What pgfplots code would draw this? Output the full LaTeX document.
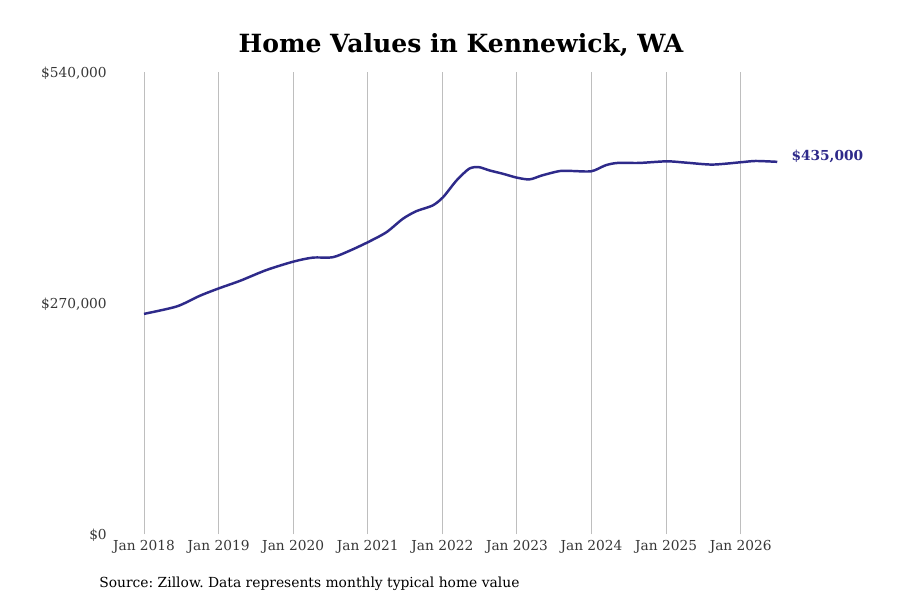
\documentclass[border=0pt]{standalone}
\usepackage{fontspec}
\setmainfont{DejaVu Serif}
\usepackage{pgfplots}
\pgfplotsset{compat=1.18}
\definecolor{linec}{RGB}{46,42,138}
\definecolor{tickc}{RGB}{55,55,55}
\definecolor{gridc}{RGB}{190,190,190}
\frenchspacing
\begin{document}
\begin{tikzpicture}
\path[use as bounding box, fill=white] (0pt,0pt) rectangle (675pt,450pt);
\begin{axis}[
  at={(108pt,49.5pt)}, anchor=south west,
  scale only axis, width=475.5pt, height=346.5pt,
  xmin=2018, xmax=2026.5, ymin=0, ymax=540000,
  clip=false,
  axis line style={draw=none},
  major tick length=0pt,
  xmajorgrids, ymajorgrids=false,
  grid style={gridc, line width=0.75pt},
  xtick={2018,2019,2020,2021,2022,2023,2024,2025,2026},
  xticklabels={Jan 2018,Jan 2019,Jan 2020,Jan 2021,Jan 2022,Jan 2023,Jan 2024,Jan 2025,Jan 2026},
  ytick={0,270000,540000},
  yticklabels={{\$0},{\$270,000},{\$540,000}},
  scaled y ticks=false,
  ticklabel style={font=\fontsize{10.3}{12}\selectfont, text=tickc},
  yticklabel style={anchor=east, inner sep=0pt, xshift=-27.75pt, yshift=-0.6pt},
  xticklabel style={yshift=-1pt},
]
\addplot[linec, line width=1.85pt, smooth, tension=0.45] coordinates {
(2018.00,257300) (2018.44,266000) (2018.75,278500) (2019.00,287000)
(2019.29,296000) (2019.64,308500) (2020.00,318300) (2020.26,323000)
(2020.53,323500) (2020.76,331200) (2021.00,341000) (2021.25,352700)
(2021.47,368400) (2021.65,377300) (2021.87,384000) (2022.01,393700)
(2022.19,413200) (2022.36,427000) (2022.49,428800) (2022.63,425000)
(2022.81,421100) (2023.00,416500) (2023.17,414500) (2023.34,419200)
(2023.57,424200) (2023.74,424300) (2024.00,424000) (2024.19,431000)
(2024.35,433700) (2024.64,433700) (2025.01,435600) (2025.26,434100)
(2025.62,431800) (2026.00,434500) (2026.20,436000) (2026.49,435000)
};
\node[anchor=west, inner sep=0pt, xshift=10.5pt, yshift=4.3pt, text=linec, font=\bfseries\fontsize{10.3}{12}\selectfont] at (axis cs:2026.49,435000) {\$435,000};
\end{axis}
\node[font=\bfseries\fontsize{18.8}{22}\selectfont] at (345.75pt,416pt) {Home Values in Kennewick, WA};
\node[anchor=west, inner sep=0pt, font=\fontsize{10.4}{12}\selectfont] at (74.25pt,12.2pt) {Source: Zillow. Data represents monthly typical home value};
\end{tikzpicture}
\end{document}
